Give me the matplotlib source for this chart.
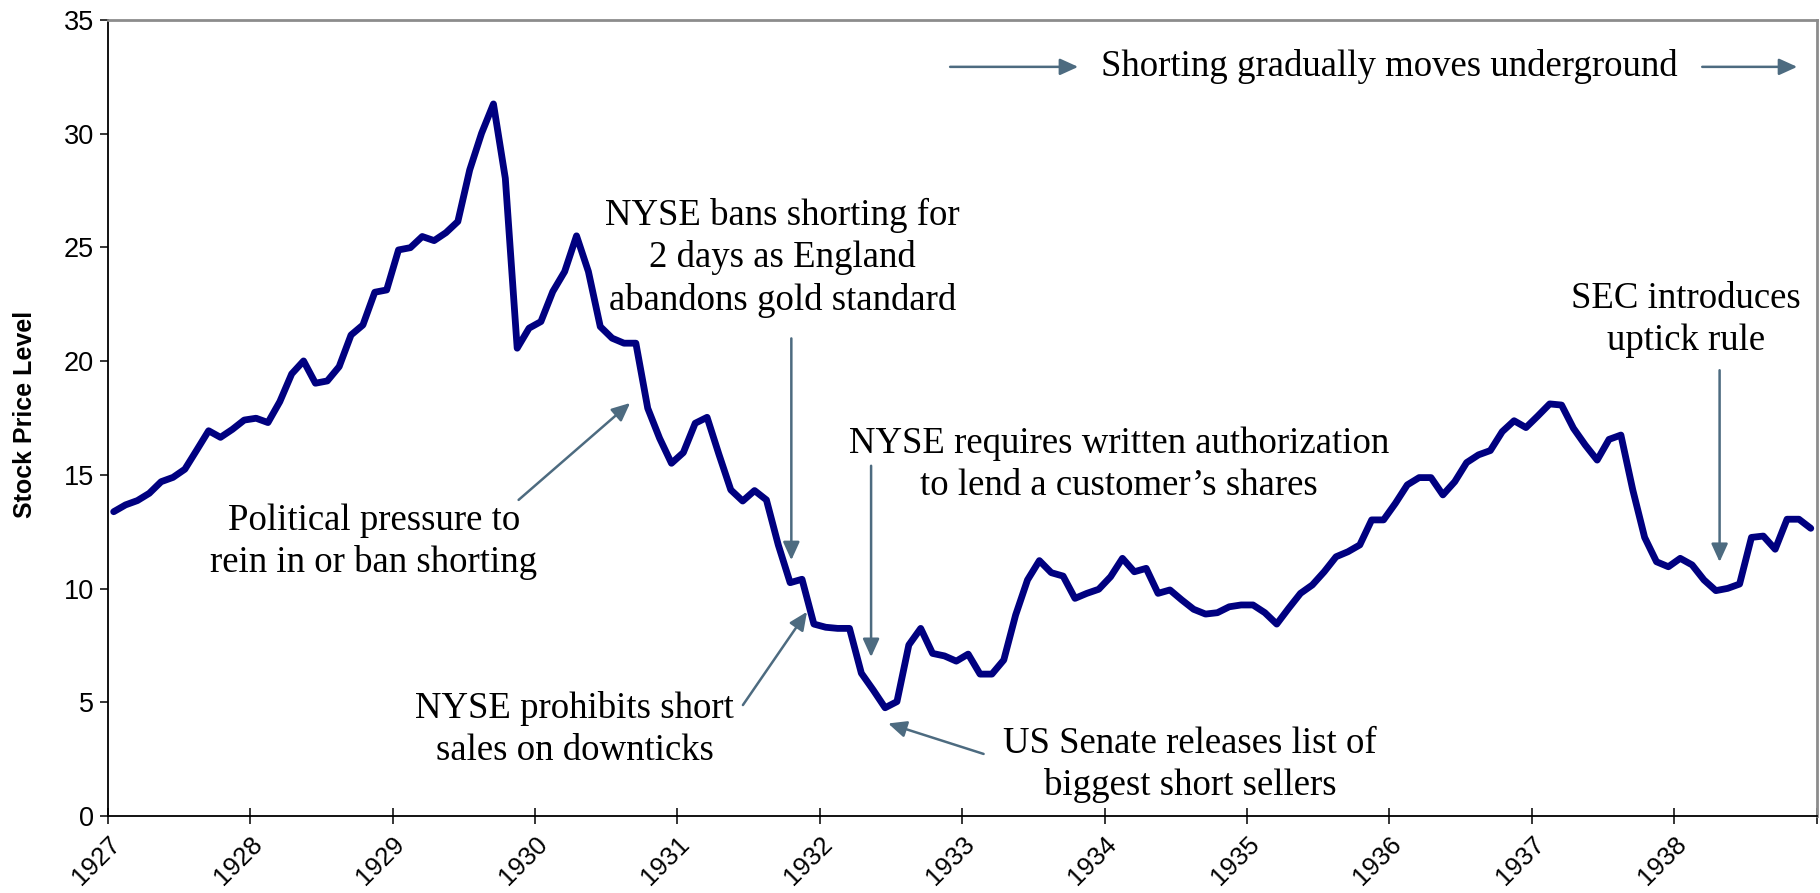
import numpy as np
import matplotlib.pyplot as plt

# Monthly stock price level, Jan 1927 - Dec 1938
price_level = [
    13.38, 13.68, 13.87, 14.19, 14.70, 14.89, 15.25, 16.09, 16.94, 16.65, 17.00, 17.41,  # 1927
    17.49, 17.30, 18.22, 19.44, 20.01, 19.03, 19.13, 19.76, 21.15, 21.59, 23.03, 23.13,  # 1928
    24.89, 24.99, 25.48, 25.30, 25.65, 26.14, 28.41, 30.02, 31.31, 28.04, 20.57, 21.45,  # 1929
    21.74, 23.06, 23.94, 25.51, 23.94, 21.52, 21.01, 20.79, 20.79, 17.93, 16.61, 15.51,  # 1930
    15.98, 17.27, 17.53, 15.90, 14.34, 13.85, 14.31, 13.90, 11.92, 10.26, 10.41, 8.44,   # 1931
    8.30, 8.25, 8.25, 6.28, 5.54, 4.76, 5.03, 7.52, 8.25, 7.15, 7.04, 6.81,              # 1932
    7.12, 6.24, 6.24, 6.86, 8.84, 10.38, 11.23, 10.70, 10.55, 9.57, 9.79, 9.97,          # 1933
    10.52, 11.33, 10.74, 10.89, 9.79, 9.94, 9.50, 9.09, 8.88, 8.94, 9.20, 9.28,          # 1934
    9.28, 8.94, 8.44, 9.13, 9.79, 10.16, 10.74, 11.40, 11.62, 11.92, 13.02, 13.02,       # 1935
    13.75, 14.56, 14.88, 14.88, 14.12, 14.70, 15.54, 15.88, 16.07, 16.90, 17.38, 17.08,  # 1936
    17.59, 18.12, 18.07, 17.05, 16.31, 15.65, 16.56, 16.75, 14.34, 12.25, 11.18, 10.96,  # 1937
    11.33, 11.04, 10.38, 9.91, 10.01, 10.20, 12.25, 12.31, 11.73, 13.05, 13.05, 12.65,   # 1938
]
years = list(range(1927, 1940))
year_labels = [str(y) for y in years[:-1]] + ['']

# events: (text, text position, arrow tail, arrow head)
events = [
    ('NYSE bans shorting for\n2 days as England\nabandons gold standard',
     (1931.74, 24.55), (1931.80, 21.0), (1931.80, 11.25)),
    ('Political pressure to\nrein in or ban shorting',
     (1928.87, 12.05), (1929.885, 13.9), (1930.668, 18.16)),
    ('NYSE prohibits short\nsales on downticks',
     (1930.28, 3.80), (1931.46, 4.88), (1931.91, 8.98)),
    ('NYSE requires written authorization\nto lend a customer\u2019s shares',
     (1934.10, 15.45), (1932.36, 15.4), (1932.36, 6.99)),
    ('US Senate releases list of\nbiggest short sellers',
     (1934.60, 2.25), (1933.15, 2.73), (1932.48, 4.07)),
    ('SEC introduces\nuptick rule',
     (1938.08, 21.83), (1938.318, 19.6), (1938.318, 11.17)),
]

line_color = '#000080'
arrow_color = '#4d6b80'
sans = 'Liberation Sans'
serif = 'Liberation Serif'

x = 1927 + (np.arange(len(price_level)) + 0.5) / 12

fig = plt.figure(figsize=(18.2, 8.93), dpi=100)
ax = fig.add_axes([0.0592, 0.0862, 0.9390, 0.8914])

ax.plot(x, price_level, color=line_color, lw=4.9, solid_joinstyle='round',
        solid_capstyle='round', clip_on=False)

ax.set_xlim(1927, 1939)
ax.set_ylim(0, 35)
ax.set_yticks(np.arange(0, 36, 5))
ax.set_xticks(years)
ax.set_xticklabels(year_labels, rotation=45, ha='right', va='top',
                   rotation_mode='anchor', family=sans, fontsize=18.5)
for lab in ax.get_yticklabels():
    lab.set_family(sans)
    lab.set_fontsize(19.5)

ax.tick_params(axis='y', direction='out', length=6, width=1.1, pad=4)
ax.tick_params(axis='x', direction='inout', length=11, width=1.1, pad=6)

ax.set_ylabel('Stock Price Level', family=sans, fontsize=18, fontweight='bold')
ax.yaxis.set_label_coords(-0.0415, 0.505)

for side in ['left', 'bottom']:
    ax.spines[side].set_color('black')
    ax.spines[side].set_linewidth(1.3)
for side in ['top', 'right']:
    ax.spines[side].set_color('#8c8c8c')
    ax.spines[side].set_linewidth(2)

arrow_style = '-|>,head_length=0.55,head_width=0.25'

for text, pos, tail, head in events:
    ax.text(pos[0], pos[1], text, ha='center', va='center', family=serif,
            fontsize=26.5, linespacing=1.27)
    ax.annotate('', xy=head, xytext=tail,
                arrowprops=dict(arrowstyle=arrow_style, color=arrow_color,
                                lw=1.8, mutation_scale=20,
                                shrinkA=0, shrinkB=0))

# banner across the top with arrows on either side
ax.text(1936.0, 32.94, 'Shorting gradually moves underground', ha='center',
        va='center', family=serif, fontsize=26.5)
for x0, x1 in [(1932.915, 1933.814), (1938.196, 1938.863)]:
    ax.annotate('', xy=(x1, 32.94), xytext=(x0, 32.94),
                arrowprops=dict(arrowstyle=arrow_style, color=arrow_color,
                                lw=1.8, mutation_scale=20,
                                shrinkA=0, shrinkB=0))

fig.savefig('out.png', dpi=100)
